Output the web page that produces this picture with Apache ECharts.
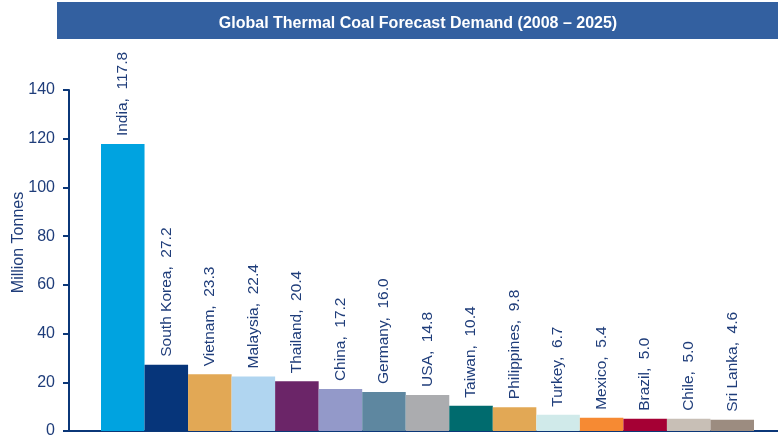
<!DOCTYPE html>
<html><head><meta charset="utf-8">
<script src="https://cdn.jsdelivr.net/npm/echarts@6/dist/echarts.min.js"></script>
<style>html,body{margin:0;padding:0;background:#fff}#c{width:778px;height:440px}</style>
</head><body><div id="c"></div>
<script>
var countries = ['India','South Korea','Vietnam','Malaysia','Thailand','China','Germany','USA','Taiwan','Philippines','Turkey','Mexico','Brazil','Chile','Sri Lanka'];
var demand = [117.8,27.2,23.3,22.4,20.4,17.2,16.0,14.8,10.4,9.8,6.7,5.4,5.0,5.0,4.6];
var barColors = ['#00A3E0','#06357A','#E2A855','#B0D5F0','#6B2568','#9399C9','#5E87A0','#ABACAF','#006B6E','#E2A855','#D0EAEA','#F68A33','#A50034','#C8BFB6','#9C8C80'];
var yTicks = [0,20,40,60,80,100,120,140];
var navy = '#0B3778';
var txt = '#1F3D7A';
var font = 'Liberation Sans, Arial, sans-serif';
var chart = echarts.init(document.getElementById('c'));
chart.setOption({
  animation:false,
  textStyle:{fontFamily:font},
  graphic:[{type:'rect',shape:{x:57,y:2,width:721,height:37},style:{fill:'#3360A0'},z:0}],
  title:{text:'Global Thermal Coal Forecast Demand (2008 – 2025)',left:413,textAlign:'center',top:11,
    textStyle:{color:'#fff',fontSize:16,fontWeight:'bold',fontFamily:font}},
  grid:[{left:101,right:24,top:90,bottom:9,outerBoundsMode:'none',containLabel:false},
        {left:69,right:0,top:90,bottom:9,outerBoundsMode:'none',containLabel:false}],
  xAxis:[
    {type:'category',gridIndex:0,data:countries,axisLine:{show:false},axisTick:{show:false},axisLabel:{show:false}},
    {type:'category',gridIndex:1,data:[''],axisLine:{show:true,lineStyle:{color:navy,width:2}},axisTick:{show:false},axisLabel:{show:false}}
  ],
  yAxis:[
    {type:'value',gridIndex:0,min:yTicks[0],max:yTicks[yTicks.length-1],interval:20,offset:32,
     name:'Million Tonnes',nameLocation:'middle',nameGap:42,nameMoveOverlap:false,
     nameTextStyle:{color:txt,fontSize:16,fontFamily:font,padding:[0,0,0,36]},
     axisLine:{show:true,lineStyle:{color:navy,width:2}},
     axisTick:{show:true,length:6,lineStyle:{color:navy,width:2}},
     axisLabel:{color:txt,fontSize:16,margin:14,fontFamily:font},
     splitLine:{show:false}},
    {type:'value',gridIndex:1,show:false,min:0,max:140}
  ],
  series:[{
    type:'bar',xAxisIndex:0,yAxisIndex:0,barCategoryGap:0,
    data:demand.map(function(v,i){return {value:v,itemStyle:{color:barColors[i]}};}),
    label:{show:true,position:'top',rotate:90,align:'left',verticalAlign:'middle',distance:8,
      color:txt,fontSize:15.5,fontFamily:font,
      formatter:function(p){return p.name+',  '+p.value.toFixed(1);}}
  }]
});
</script></body></html>
